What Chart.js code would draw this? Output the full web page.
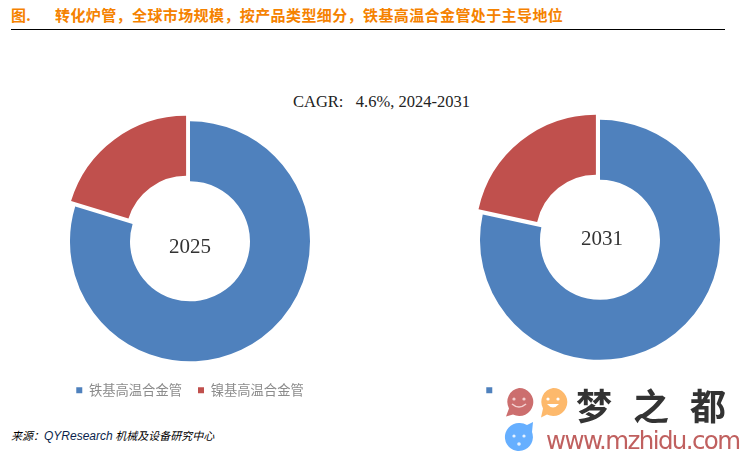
<!DOCTYPE html>
<html><head><meta charset="utf-8">
<script src="https://cdn.jsdelivr.net/npm/chart.js@4"></script>
<style>
html,body{margin:0;padding:0;background:#fff;}
#page{position:relative;width:742px;height:454px;overflow:hidden;background:#fff;}
.t{position:absolute;white-space:nowrap;}
canvas{position:absolute;}
</style></head><body>
<div id="page">
<div class="t" style="left:11px;top:5px;font:bold 15px 'Noto Sans CJK SC';color:#F58200;line-height:20px">图.</div>
<div class="t" id="title" style="left:55px;top:5px;font:bold 15px 'Noto Sans CJK SC';letter-spacing:.4px;color:#F58200;line-height:20px">转化炉管&#xFF0C;全球市场规模&#xFF0C;按产品类型细分&#xFF0C;铁基高温合金管处于主导地位</div>
<div class="t" style="left:11px;top:29px;width:714px;height:1px;background:#000"></div>
<canvas id="c1" style="left:40px;top:115px;width:300px;height:292px"></canvas>
<canvas id="c2" style="left:450px;top:112px;width:300px;height:295px"></canvas>
<div class="t" style="left:293px;top:92px;font:16.5px 'Liberation Serif';color:#222;line-height:20px">CAGR:&nbsp;&nbsp;&nbsp;4.6%, 2024-2031</div>
<div class="t" style="left:169px;top:234px;font:21px 'Liberation Serif';color:#333;line-height:24px">2025</div>
<div class="t" style="left:581px;top:226px;font:21px 'Liberation Serif';color:#333;line-height:24px">2031</div>
<div class="t" style="left:11px;top:427px;font:italic 11px 'Noto Sans CJK SC';color:#000;line-height:16px">来源&#xFF1A;<span style="font:italic 12px 'Liberation Sans';color:#0a1f4d">QYResearch</span> 机械及设备研究中心</div>
<div class="t" style="left:499px;top:381px;width:243px;height:73px;background:#fff"></div>
<svg class="t" style="left:500px;top:384px" width="75" height="70" viewBox="0 0 75 70">
<path d="M19 4a14 14 0 1 1 -6 26.5l-7 2l3-8A14 14 0 0 1 19 4z" fill="#CC6E6E"/>
<circle cx="14" cy="15" r="1.6" fill="#f3d0d0"/><circle cx="24" cy="15" r="1.6" fill="#f3d0d0"/>
<path d="M12 20q7 6 14 0" stroke="#f3d0d0" stroke-width="1.6" fill="none"/>
<path d="M53 4a14 14 0 1 1 -6 26.5l-6 3l2-9A14 14 0 0 1 53 4z" fill="#FDB96C"/>
<circle cx="48" cy="15" r="1.6" fill="#fff"/><circle cx="58" cy="15" r="1.6" fill="#fff"/>
<path d="M47 20h12q-6 7 -12 0z" fill="#fff"/>
<path d="M19 39a14 14 0 1 0 13 9l1-10l-6 3a14 14 0 0 0 -8-2z" fill="#66AFFF"/>
<circle cx="14" cy="52" r="1.6" fill="#e6f2ff"/><circle cx="24" cy="52" r="1.6" fill="#e6f2ff"/><circle cx="19" cy="60" r="1.8" fill="#e6f2ff"/>
</svg>
<div class="t" style="left:576px;top:383px;font:bold 36px 'Noto Sans CJK SC';letter-spacing:21px;color:#333;line-height:42px">梦之都</div>
<div class="t" style="left:546px;top:426px;font:24.5px 'DejaVu Sans';color:#C0605F;line-height:30px;letter-spacing:-1.6px">www.mzhidu.com</div>
</div>
<script>
const categories = ['铁基高温合金管', '镍基高温合金管'];
const values2025 = [79.7, 20.3];
const values2031 = [78.4, 21.6];
const colors = ['#4F81BD', '#C0504D'];
function donut(id, values) {
  return new Chart(document.getElementById(id), {
    type: 'doughnut',
    data: { labels: categories, datasets: [{ data: values, backgroundColor: colors,
      borderWidth: 0, offset: [0, 26], radius: 120 }] },
    options: { responsive: false, animation: false, cutout: '50%', devicePixelRatio: 1,
      layout: { padding: 0 },
      plugins: { tooltip: { enabled: false },
        legend: { position: 'bottom',
          labels: { usePointStyle: true, pointStyle: 'rect', boxWidth: 6, boxHeight: 6, padding: 16,
            color: '#8C8C8C', font: { family: "'Noto Sans CJK SC'", size: 13.3 } } } } }
  });
}
for (const id of ['c1','c2']) { const c = document.getElementById(id); c.width = parseInt(c.style.width); c.height = parseInt(c.style.height); }
window.c1 = donut('c1', values2025);
window.c2 = donut('c2', values2031);
</script>
</body></html>
